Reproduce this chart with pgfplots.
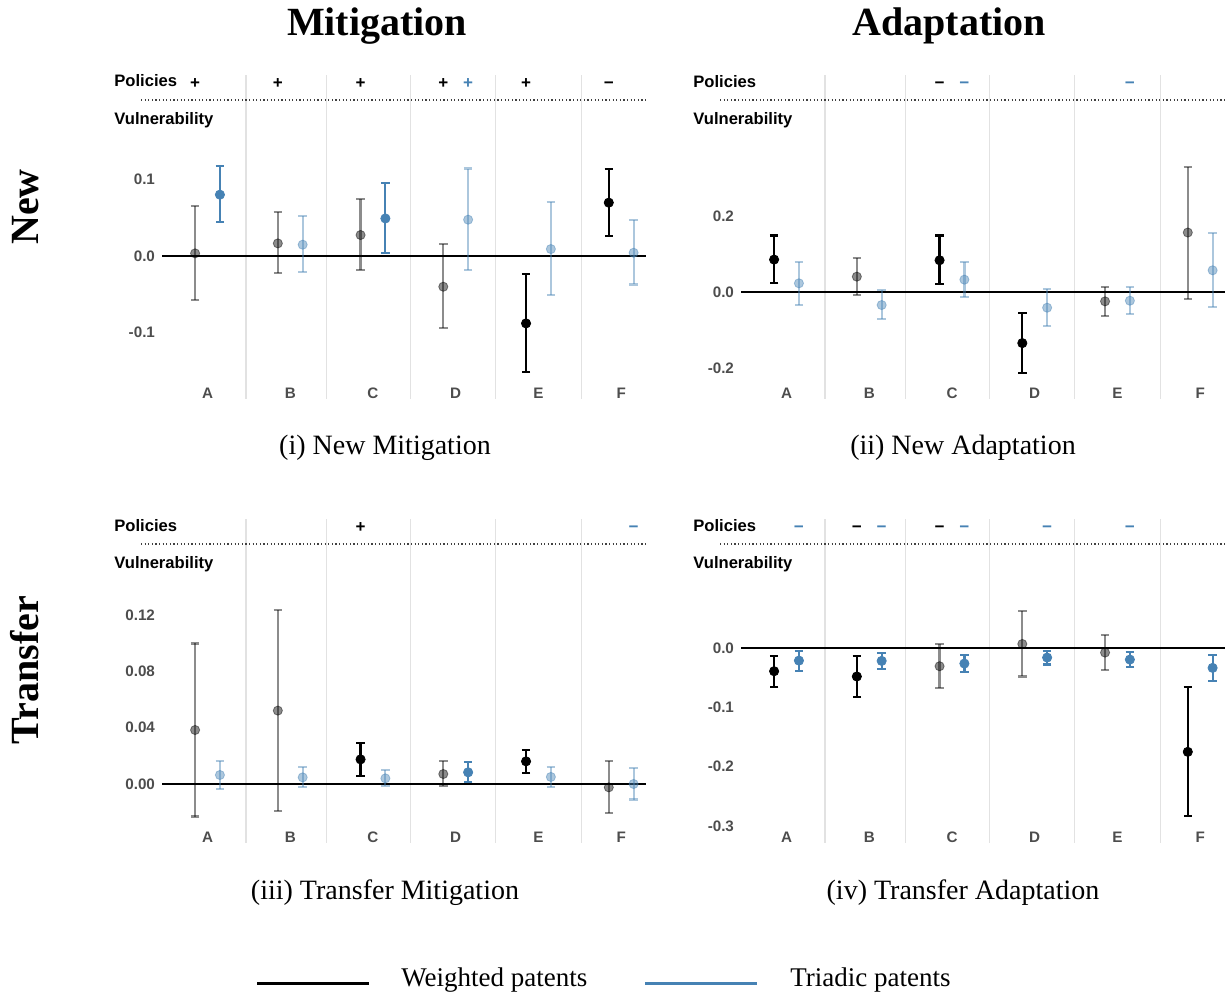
\documentclass[border=0pt]{standalone}
\usepackage{pgfplots}
\pgfplotsset{compat=1.18}
\usepackage{fontspec}
\setmainfont{Liberation Serif}
\setsansfont{Liberation Sans}
\definecolor{steel}{RGB}{70,130,180}
\definecolor{tickgray}{RGB}{77,77,77}
\definecolor{sepgray}{RGB}{226,226,226}
\newcommand{\mn}{\symbol{"2212}}
\pgfkeys{/pgfplots/table/ci/.style={x=x, y=y,
  y error plus expr=\thisrow{hi}-\thisrow{y},
  y error minus expr=\thisrow{y}-\thisrow{lo}}}
\pgfplotsset{
  panel/.style={
    scale only axis, width=242pt, height=162pt,
    xmin=-0.55, xmax=5.3, clip=false,
    axis line style={draw=none}, major tick length=0pt, tick style={draw=none},
    xtick={0,1,2,3,4,5}, xticklabels={A,B,C,D,E,F},
    tick label style={font=\sffamily\bfseries\fontsize{7.6}{9}\selectfont, text=tickgray},
    xticklabel style={anchor=base, yshift=0.2pt},
    /pgf/number format/assume math mode=true,
    extra x ticks={0.465,1.435,2.455,3.485,4.515}, extra x tick labels={},
    extra x tick style={grid=major, major grid style={draw=sepgray, line width=0.55pt}},
    extra y ticks={0}, extra y tick labels={},
    extra y tick style={grid=major, major grid style={draw=black, line width=0.65pt}},
  },
  eb/.style={only marks, mark=*, mark size=2.3pt, mark options={draw=none},
    /pgfplots/error bars/y dir=both, /pgfplots/error bars/y explicit,
    /pgfplots/error bars/error bar style={line width=1.1pt},
    /pgfplots/error bars/error mark options={rotate=90, line width=1.1pt, mark size=2.1pt}},
  sigW/.style={eb, color=black},
  insW/.style={eb, color=black, opacity=0.45},
  sigT/.style={eb, color=steel},
  insT/.style={eb, color=steel, opacity=0.45},
}
\tikzset{
  hdr/.style={font=\sffamily\bfseries\fontsize{8.3}{10}\selectfont, text=black, inner sep=0pt},
  sgn/.style={font=\sffamily\bfseries\fontsize{8.5}{10}\selectfont, inner sep=0pt, anchor=base},
  dotl/.style={line width=0.6pt, dash pattern=on 0.6pt off 1.2pt, draw=black!75},
}
\newcommand{\header}{%
  \coordinate (sgy) at (rel axis cs:0,0.958);
  \node[hdr, anchor=base west] at ([xshift=-24pt]rel axis cs:0,0.963) {Policies};
  \draw[dotl] ([xshift=-10.5pt]rel axis cs:0,0.923) -- (rel axis cs:1,0.923);
  \node[hdr, anchor=base west] at ([xshift=-24pt]rel axis cs:0,0.848) {Vulnerability};
}
\newcommand{\sg}[3]{\coordinate (sgp) at (axis cs:#2,0); \node[sgn, text=#1] at (sgp |- sgy) {#3};}
\begin{document}
\begin{tikzpicture}
\path[use as bounding box] (0,0) rectangle (612.5pt,-496.5pt);

% titles
\node[font=\bfseries\fontsize{20}{24}\selectfont, anchor=base] at (188.5pt,-17.75pt) {Mitigation};
\node[font=\bfseries\fontsize{20}{24}\selectfont, anchor=base] at (474.5pt,-17.75pt) {Adaptation};
\node[font=\bfseries\fontsize{20}{24}\selectfont, anchor=base, rotate=90] at (19.5pt,-103.5pt) {New};
\node[font=\bfseries\fontsize{20}{24}\selectfont, anchor=base, rotate=90] at (19.5pt,-335pt) {Transfer};

% (i) New Mitigation
\begin{axis}[panel, at={(81pt,-37.5pt)}, anchor=north west,
  ymin=-0.1864, ymax=0.236, ytick={-0.1,0,0.1}, yticklabels={-0.1,0.0,0.1}]
\addplot[insW] table[ci] {
x y lo hi
-0.15 0.0035 -0.0574 0.0657
0.85 0.0165 -0.0226 0.057
1.85 0.0274 -0.0183 0.0743
2.85 -0.040 -0.0943 0.016
};
\addplot[sigW] table[ci] {
x y lo hi
3.85 -0.0878 -0.151 -0.0239
4.85 0.0696 0.0265 0.113
};
\addplot[sigT] table[ci] {
x y lo hi
0.15 0.080 0.044 0.117
2.15 0.049 0.0043 0.0948
};
\addplot[insT] table[ci] {
x y lo hi
1.15 0.0148 -0.021 0.0517
3.15 0.0474 -0.0183 0.114
4.15 0.0091 -0.0509 0.070
5.15 0.0043 -0.037 0.0465
};
\header
\sg{black}{-0.15}{+}\sg{black}{0.85}{+}\sg{black}{1.85}{+}
\sg{black}{2.85}{+}\sg{steel}{3.15}{+}\sg{black}{3.85}{+}\sg{black}{4.85}{\mn}
\end{axis}

% (ii) New Adaptation
\begin{axis}[panel, at={(370.5pt,-37.5pt)}, anchor=north west,
  ymin=-0.2816, ymax=0.571, ytick={-0.2,0,0.2}, yticklabels={-0.2,0.0,0.2}]
\addplot[insW] table[ci] {
x y lo hi
0.85 0.0404 -0.007 0.0888
3.85 -0.0246 -0.0633 0.0132
4.85 0.1565 -0.0176 0.329
};
\addplot[sigW] table[ci] {
x y lo hi
-0.15 0.0853 0.0229 0.1486
1.85 0.0835 0.0211 0.1486
2.85 -0.1345 -0.2127 -0.0563
};
\addplot[insT] table[ci] {
x y lo hi
0.15 0.0229 -0.0334 0.079
1.15 -0.0343 -0.0703 0.0044
2.15 0.0325 -0.0123 0.078
3.15 -0.0413 -0.0905 0.0079
4.15 -0.0229 -0.058 0.0123
5.15 0.0571 -0.0396 0.1547
};
\header
\sg{black}{1.85}{\mn}\sg{steel}{2.15}{\mn}\sg{steel}{4.15}{\mn}
\end{axis}

% (iii) Transfer Mitigation
\begin{axis}[panel, at={(81pt,-259.5pt)}, anchor=north west,
  ymin=-0.042, ymax=0.1885, ytick={0,0.04,0.08,0.12}, yticklabels={0.00,0.04,0.08,0.12}]
\addplot[insW] table[ci] {
x y lo hi
-0.15 0.0384 -0.0232 0.100
0.85 0.0522 -0.019 0.1238
2.85 0.0071 -0.0017 0.0164
4.85 -0.0024 -0.0209 0.0166
};
\addplot[sigW] table[ci] {
x y lo hi
1.85 0.0175 0.0059 0.0294
3.85 0.0161 0.0081 0.0242
};
\addplot[sigT] table[ci] {
x y lo hi
3.15 0.0083 0.0012 0.0157
};
\addplot[insT] table[ci] {
x y lo hi
0.15 0.0064 -0.0036 0.0166
1.15 0.0047 -0.0024 0.0121
2.15 0.004 -0.0017 0.0097
4.15 0.005 -0.0021 0.0119
5.15 0.0 -0.0111 0.0116
};
\header
\sg{black}{1.85}{+}\sg{steel}{5.15}{\mn}
\end{axis}

% (iv) Transfer Adaptation
\begin{axis}[panel, at={(370.5pt,-259.5pt)}, anchor=north west,
  ymin=-0.329, ymax=0.2175, ytick={-0.3,-0.2,-0.1,0}, yticklabels={-0.3,-0.2,-0.1,0.0}]
\addplot[insW] table[ci] {
x y lo hi
1.85 -0.0308 -0.0677 0.0062
2.85 0.0067 -0.0481 0.0627
3.85 -0.0078 -0.0369 0.0218
};
\addplot[sigW] table[ci] {
x y lo hi
-0.15 -0.0392 -0.066 -0.0129
0.85 -0.0481 -0.0828 -0.014
4.85 -0.1752 -0.2832 -0.066
};
\addplot[sigT] table[ci] {
x y lo hi
0.15 -0.0213 -0.0386 -0.0045
1.15 -0.0218 -0.0358 -0.0084
2.15 -0.0263 -0.0409 -0.0118
3.15 -0.0162 -0.028 -0.0045
4.15 -0.0196 -0.0325 -0.0067
5.15 -0.0336 -0.056 -0.0118
};
\header
\sg{steel}{0.15}{\mn}\sg{black}{0.85}{\mn}\sg{steel}{1.15}{\mn}
\sg{black}{1.85}{\mn}\sg{steel}{2.15}{\mn}\sg{steel}{3.15}{\mn}\sg{steel}{4.15}{\mn}
\end{axis}

% subcaptions
\node[font=\fontsize{14}{17}\selectfont, anchor=base] at (192.5pt,-227pt) {(i) New Mitigation};
\node[font=\fontsize{14}{17}\selectfont, anchor=base] at (481.5pt,-227pt) {(ii) New Adaptation};
\node[font=\fontsize{14}{17}\selectfont, anchor=base] at (192.5pt,-449.5pt) {(iii) Transfer Mitigation};
\node[font=\fontsize{14}{17}\selectfont, anchor=base] at (481.5pt,-449.5pt) {(iv) Transfer Adaptation};

% legend
\draw[black, line width=1.5pt] (128.5pt,-491.5pt) -- (184.5pt,-491.5pt);
\node[font=\fontsize{13.5}{16}\selectfont, anchor=base west, inner sep=0pt] at (200.5pt,-493pt) {Weighted patents};
\draw[steel, line width=1.5pt] (322.5pt,-491.5pt) -- (378.5pt,-491.5pt);
\node[font=\fontsize{13.5}{16}\selectfont, anchor=base west, inner sep=0pt] at (395pt,-493pt) {Triadic patents};
\end{tikzpicture}
\end{document}
